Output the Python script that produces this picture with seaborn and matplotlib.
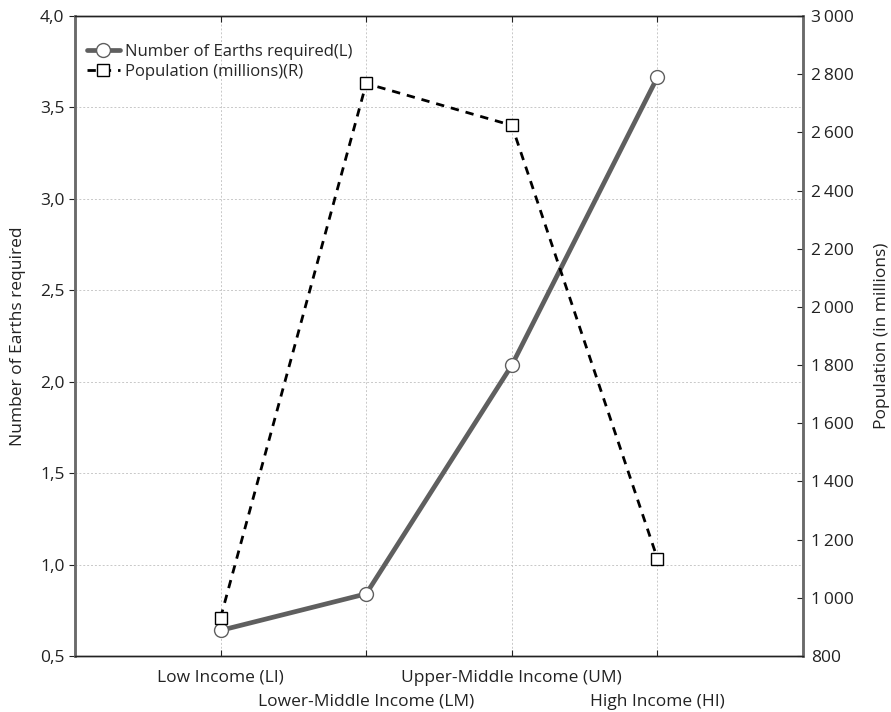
import pandas as pd
import numpy as np

import matplotlib
matplotlib.use("Agg")
import matplotlib.pyplot as plt
from matplotlib.ticker import FuncFormatter, MultipleLocator
import seaborn as sns

categories = ["Low Income (LI)", "Lower-Middle Income (LM)", "Upper-Middle Income (UM)", "High Income (HI)"]
earths = [0.64, 0.84, 2.09, 3.665]
population = [932, 2768, 2624, 1135]

df = pd.DataFrame({
    "group": categories,
    "earths": earths,
    "population": population
})

sns.set_style("white")
plt.rcParams["font.family"] = ["Open Sans", "DejaVu Sans"]

fig = plt.figure(figsize=(8.91, 7.12), dpi=100)
ax = fig.add_axes([75 / 891, 1 - 656 / 712, (803 - 75) / 891, (656 - 16) / 712])

sns.lineplot(
    data=df, x="group", y="earths", ax=ax, sort=False,
    color="#5f5f5f", linewidth=3.4,
    marker="o", markersize=10, markerfacecolor="white",
    markeredgecolor="#5f5f5f", markeredgewidth=1.0,
    label="Number of Earths required(L)", legend=False
)

ax2 = ax.twinx()
sns.lineplot(
    data=df, x="group", y="population", ax=ax2, sort=False,
    color="black", linewidth=2.0, linestyle=(0, (3, 2.5)),
    marker="s", markersize=9, markerfacecolor="white",
    markeredgecolor="black", markeredgewidth=1.0,
    label="Population (millions)(R)", legend=False
)

ax.set_xlim(-1, 4)
ax.set_ylim(0.5, 4.0)
ax2.set_ylim(800, 3000)
ax.yaxis.set_major_locator(MultipleLocator(0.5))
ax2.yaxis.set_major_locator(MultipleLocator(200))

ax.yaxis.set_major_formatter(FuncFormatter(lambda v, p: f"{v:.1f}".replace(".", ",")))
ax2.yaxis.set_major_formatter(FuncFormatter(lambda v, p: f"{int(v):,}".replace(",", "\u2009")))

ax.set_xticks(range(len(categories)))
ax.set_xticklabels(categories)

ax.grid(True, color="#c8c8c8", linestyle=(0, (2, 2)), linewidth=0.7)
ax.set_axisbelow(True)

ax.set_xlabel("")
ax.set_ylabel("Number of Earths required", fontsize=12.5, color="#222222", labelpad=10)
ax2.set_ylabel("Population (in millions)", fontsize=12.5, color="#222222", labelpad=14)

ax.tick_params(axis="x", direction="in", top=True, bottom=True, length=4, labelsize=12.5, pad=10, colors="#222222")
ax.tick_params(axis="y", direction="out", length=4, labelsize=12.5, colors="#222222")
ax2.tick_params(axis="y", direction="in", length=4, labelsize=12.5, pad=6, colors="#222222")

# stagger the category labels on two rows
for i, tick in enumerate(ax.xaxis.get_major_ticks()):
    tick.set_pad(10 if i % 2 == 0 else 27)

for a in (ax, ax2):
    a.spines["top"].set_color("#222222")
    a.spines["bottom"].set_color("#222222")
    a.spines["top"].set_linewidth(1.0)
    a.spines["bottom"].set_linewidth(1.0)
    a.spines["left"].set_color("#6a6a6a")
    a.spines["right"].set_color("#6a6a6a")
    a.spines["left"].set_linewidth(1.8)
    a.spines["right"].set_linewidth(1.8)

h1, l1 = ax.get_legend_handles_labels()
h2, l2 = ax2.get_legend_handles_labels()
leg = ax2.legend(h1 + h2, l1 + l2, loc="upper left", frameon=False, fontsize=12,
                 handlelength=2.0, handletextpad=0.3, labelspacing=0.25,
                 borderaxespad=0.3, bbox_to_anchor=(0.0, 0.975))

fig.savefig("out.png", dpi=100)
